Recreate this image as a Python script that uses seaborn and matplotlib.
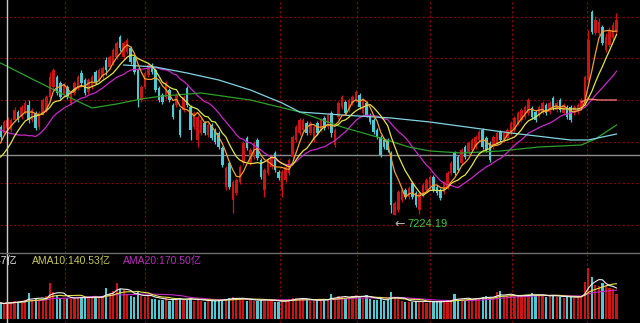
import matplotlib
matplotlib.use("Agg")
import matplotlib.pyplot as plt
from matplotlib.lines import Line2D
import numpy as np
import pandas as pd
import seaborn as sns

# ---------------- data (index points / 亿) ----------------
opens = [7665,7635,7660,7650,7700,7740,7715,7740,7775,7700,7735,7665,7735,7750,7815,7865,7915,7885,7825,7865,
         7785,7835,7860,7935,7900,7840,7865,7940,7900,7915,8000,7965,7985,8015,8115,8015,8040,8060,8015,7950,
         7800,7865,7925,7975,7950,7860,7825,7815,7850,7775,7775,7750,7750,7860,7765,7665,7600,7635,7685,7625,
         7675,7650,7635,7560,7365,7485,7300,7335,7390,7485,7610,7485,7515,7600,7500,7350,7435,7465,7535,7440,
         7350,7400,7435,7515,7600,7635,7650,7685,7635,7600,7685,7650,7710,7665,7735,7575,7715,7765,7790,7750,
         7785,7800,7825,7735,7785,7725,7700,7650,7615,7600,7600,7535,7225,7250,7300,7350,7315,7385,7335,7250,
         7325,7350,7365,7415,7365,7350,7340,7365,7435,7535,7515,7485,7565,7535,7550,7565,7600,7650,7610,7585,
         7565,7585,7640,7600,7610,7635,7650,7685,7700,7715,7735,7760,7740,7725,7740,7775,7740,7810,7750,7800,
         7735,7765,7765,7735,7740,7760,7785,7900,8240,8135,8135,8165,8050,8075,8110,8140]
highs = [7675,7700,7715,7710,7765,7750,7775,7800,7800,7760,7745,7745,7810,7825,7940,7960,7925,7895,7885,7875,
         7845,7895,7925,7950,7910,7910,7925,7950,7960,7970,8015,8025,8060,8095,8125,8095,8110,8070,8025,7960,
         7875,7945,7985,7985,7960,7870,7835,7895,7860,7785,7835,7760,7825,7870,7775,7745,7725,7710,7695,7685,
         7685,7660,7645,7570,7470,7495,7400,7410,7475,7595,7620,7560,7595,7610,7510,7460,7510,7525,7545,7450,
         7450,7475,7510,7625,7675,7710,7710,7695,7695,7675,7695,7710,7720,7735,7745,7660,7795,7825,7800,7810,
         7825,7850,7835,7810,7795,7735,7710,7660,7625,7610,7610,7545,7295,7350,7360,7360,7370,7395,7345,7345,
         7385,7410,7425,7425,7375,7360,7395,7445,7495,7545,7525,7560,7575,7595,7610,7625,7650,7660,7620,7595,
         7625,7645,7650,7645,7660,7695,7720,7745,7760,7775,7810,7770,7750,7775,7795,7785,7795,7820,7795,7810,
         7785,7775,7775,7775,7785,7810,7925,8150,8250,8220,8210,8175,8135,8165,8190,8235]
lows = [7600,7625,7650,7640,7690,7690,7705,7730,7685,7690,7650,7655,7725,7740,7800,7855,7825,7805,7815,7805,
        7775,7825,7850,7875,7825,7830,7855,7880,7890,7905,7925,7955,7975,8005,8045,8005,8030,7980,7930,7765,
        7790,7855,7915,7930,7840,7790,7780,7805,7790,7705,7765,7615,7740,7765,7600,7655,7565,7625,7625,7615,
        7600,7580,7555,7465,7350,7355,7235,7325,7380,7475,7550,7475,7505,7500,7405,7315,7425,7455,7440,7400,
        7315,7390,7425,7505,7590,7625,7640,7625,7625,7590,7625,7640,7650,7655,7615,7565,7705,7755,7725,7740,
        7775,7790,7755,7725,7715,7680,7630,7605,7515,7555,7540,7235,7224.19,7240,7290,7305,7305,7305,7265,7230,
        7315,7340,7355,7340,7325,7300,7330,7355,7425,7425,7440,7475,7505,7525,7540,7555,7590,7555,7540,7490,
        7555,7575,7590,7590,7600,7625,7640,7675,7690,7705,7725,7705,7690,7715,7730,7725,7730,7750,7740,7740,
        7725,7705,7690,7725,7730,7750,7775,7890,8130,8125,8125,8075,8040,8065,8100,8130]
closes = [7615,7690,7700,7700,7750,7700,7765,7785,7700,7750,7660,7735,7800,7815,7915,7950,7835,7815,7875,7815,
          7835,7885,7915,7885,7835,7900,7915,7890,7950,7960,7950,8015,8050,8085,8060,8085,8100,7990,7940,7800,
          7865,7935,7975,7940,7850,7800,7790,7885,7800,7715,7825,7625,7815,7775,7650,7735,7715,7700,7635,7675,
          7610,7590,7565,7475,7460,7365,7390,7400,7465,7585,7560,7550,7585,7510,7415,7450,7500,7515,7450,7410,
          7440,7465,7500,7615,7665,7700,7700,7635,7685,7665,7635,7700,7660,7725,7635,7650,7785,7815,7735,7800,
          7815,7840,7765,7800,7725,7690,7640,7615,7525,7565,7550,7275,7285,7340,7350,7315,7360,7315,7275,7335,
          7375,7400,7415,7350,7335,7310,7385,7435,7485,7435,7450,7550,7515,7585,7600,7615,7640,7565,7550,7500,
          7615,7635,7600,7635,7650,7685,7710,7735,7750,7765,7800,7715,7700,7765,7785,7735,7785,7760,7785,7750,
          7775,7715,7700,7765,7775,7800,7915,8100,8140,8200,8190,8085,8115,8150,8175,8200]
# closes before the visible window (only used to seed the moving averages)
pre_closes = [7825,7810,7815,7800,7790,7780,7775,7765,7750,7740,
              7500,7460,7425,7410,7430,7510,7560,7600,7640]
volumes = [160,150,170,165,180,175,185,190,260,190,200,195,205,230,360,270,240,215,210,215,
           200,210,220,225,210,215,220,230,215,225,310,260,280,360,300,290,250,230,220,270,
           230,220,240,205,200,195,190,210,185,195,200,215,190,195,210,185,200,180,175,185,
           180,185,190,200,205,210,220,195,200,210,185,190,180,185,195,200,185,180,175,170,
           180,185,200,210,215,205,195,190,185,180,190,195,200,190,250,210,230,225,210,220,
           230,240,225,215,240,200,195,190,200,185,195,270,210,200,180,175,170,175,180,185,
           170,165,170,175,180,170,175,185,190,250,190,200,195,205,200,210,215,220,230,210,
           215,270,280,220,230,240,235,225,230,240,245,260,235,230,240,225,230,240,225,220,
           210,230,220,215,220,225,370,510,420,340,330,360,330,310,300,250]
# long moving averages (candle index, value)
ma60_idx = [0,9,17,26,33,40,46,57,71,85,97,108,116,122,131,142,153,165,169,175]
ma60_val = [7985,7905,7835,7760,7780,7805,7820,7835,7800,7740,7665,7610,7565,7545,7535,7545,7565,7575,7605,7675]
ma120_idx = [35,44,53,62,71,80,85,97,111,122,145,162,167,175]
ma120_val = [7975,7965,7935,7900,7850,7785,7740,7725,7710,7690,7635,7600,7600,7630]
pink_idx = [165,167,170,175]
pink_val = [7790,7805,7800,7800]
ref_level = 7527.5
grid_levels = [8215,8008,7800,7592,7384,7176]
month_breaks = [18.3,41.05,79.4,101.3,122.0,145.3,166.6]
cursor_idx = 1.85
vol_labels = [("AMA5:118.47亿", "#e8e8e8"), ("AMA10:140.53亿", "#c8c858"), ("AMA20:170.50亿", "#b830b8")]

# ---------------- styling ----------------
RED = "#cc1414"
CYAN = "#4ec8d2"
GRID = "#8a0000"
C_MA5, C_MA10, C_MA20 = "#f0a030", "#e4e44a", "#c828c8"
C_MA60, C_MA120, C_PINK = "#2ca02c", "#80d4e4", "#ff8080"

o = np.array(opens, float); h = np.array(highs, float)
l = np.array(lows, float); c = np.array(closes, float)
v = np.array(volumes, float)
n = len(c)
idx = np.arange(n)
up = c >= o
colors = np.where(up, RED, CYAN)

allc = pd.Series(pre_closes + closes, dtype=float)
k = len(pre_closes)
ma5 = allc.rolling(5).mean().iloc[k:].to_numpy()
ma10 = allc.rolling(10).mean().iloc[k:].to_numpy()
ma20 = allc.rolling(20).mean().iloc[k:].to_numpy()
vs = pd.Series(v)
ama5 = vs.rolling(5, min_periods=1).mean().to_numpy()
ama10 = vs.rolling(10, min_periods=1).mean().to_numpy()
ama20 = vs.rolling(20, min_periods=1).mean().to_numpy()

W, H = 640, 323
fig = plt.figure(figsize=(W / 100, H / 100), dpi=100, facecolor="black")
ax_p = fig.add_axes([0, 70 / H, 1, 253 / H], facecolor="black")
ax_v = fig.add_axes([0, 0, 1, 70 / H], facecolor="black")

xmin = -0.5 / 3.52
xmax = (W - 0.5) / 3.52

# grids
for ax in (ax_p, ax_v):
    for gx in month_breaks:
        ax.axvline(gx, color=GRID, lw=0.8, ls=(0, (2, 2)), zorder=0)
for gy in grid_levels:
    ax_p.axhline(gy, color=GRID, lw=0.8, ls=(0, (2, 2)), zorder=0)
ax_p.axhline(ref_level, color="#8c8c8c", lw=1.0, zorder=1)

# candles
ax_p.vlines(idx, l, h, colors=colors, lw=0.9, zorder=2)
body = np.maximum(np.abs(c - o), 3)
ax_p.bar(idx, body, bottom=np.minimum(o, c), width=0.72, color=colors, linewidth=0, zorder=3)

# moving averages
lw = 0.9
sns.lineplot(x=idx, y=ma20, color=C_MA20, lw=lw, ax=ax_p, zorder=4)
sns.lineplot(x=idx, y=ma10, color=C_MA10, lw=lw, ax=ax_p, zorder=5)
sns.lineplot(x=idx, y=ma5, color=C_MA5, lw=lw, ax=ax_p, zorder=6)
sns.lineplot(x=ma60_idx, y=ma60_val, color=C_MA60, lw=lw, ax=ax_p, zorder=4)
sns.lineplot(x=ma120_idx, y=ma120_val, color=C_MA120, lw=lw, ax=ax_p, zorder=4)
sns.lineplot(x=pink_idx, y=pink_val, color=C_PINK, lw=lw, ax=ax_p, zorder=4)

# low annotation
imin = int(np.argmin(l))
ax_p.annotate("←", xy=(imin, l[imin]), xytext=(0, -6.5), textcoords="offset points",
              ha="left", va="center", color="#b0b0b0", fontsize=9, family="DejaVu Sans", zorder=7)
ax_p.annotate(f"{l[imin]:.2f}", xy=(imin, l[imin]), xytext=(9.4, -6.5), textcoords="offset points",
              ha="left", va="center", color="#3cc83c", fontsize=8,
              family=["Liberation Sans", "DejaVu Sans"], zorder=7)

ax_p.set_xlim(xmin, xmax)
ax_p.set_ylim(8300 - 5 * 253, 8300)

# volume panel
vdf = pd.DataFrame({"idx": idx, "vol": v, "dir": np.where(up, "up", "down")})
sns.barplot(data=vdf, x="idx", y="vol", hue="dir", palette={"up": RED, "down": CYAN},
            native_scale=True, width=0.62, dodge=False, legend=False, saturation=1,
            errorbar=None, linewidth=0, ax=ax_v, zorder=2)
sns.lineplot(x=idx, y=ama20, color=C_MA20, lw=0.8, ax=ax_v, zorder=3)
sns.lineplot(x=idx, y=ama10, color=C_MA10, lw=0.8, ax=ax_v, zorder=4)
sns.lineplot(x=idx, y=ama5, color="#f0f0f0", lw=0.8, ax=ax_v, zorder=5)
ax_v.set_xlim(xmin, xmax)
ax_v.set_ylim(-40, 660)

for ax in (ax_p, ax_v):
    ax.set_axis_off()

# separator and cursor
fig.add_artist(Line2D([0, 1], [70 / H, 70 / H], color="#6e6e6e", lw=1.0))
for ax in (ax_p, ax_v):
    ax.axvline(cursor_idx, color="#c8c8c8", lw=1.0, zorder=8)

# volume legend texts
fam = ["Liberation Sans", "Noto Sans CJK SC"]
fig.text(18 / W, 1 - 261 / H, vol_labels[0][0], color=vol_labels[0][1], fontsize=7.5,
         ha="right", va="center", family=fam)
fig.text(32 / W, 1 - 261 / H, vol_labels[1][0], color=vol_labels[1][1], fontsize=7.5,
         ha="left", va="center", family=fam)
fig.text(123 / W, 1 - 261 / H, vol_labels[2][0], color=vol_labels[2][1], fontsize=7.5,
         ha="left", va="center", family=fam)

fig.savefig("out.png", dpi=100, facecolor="black")
